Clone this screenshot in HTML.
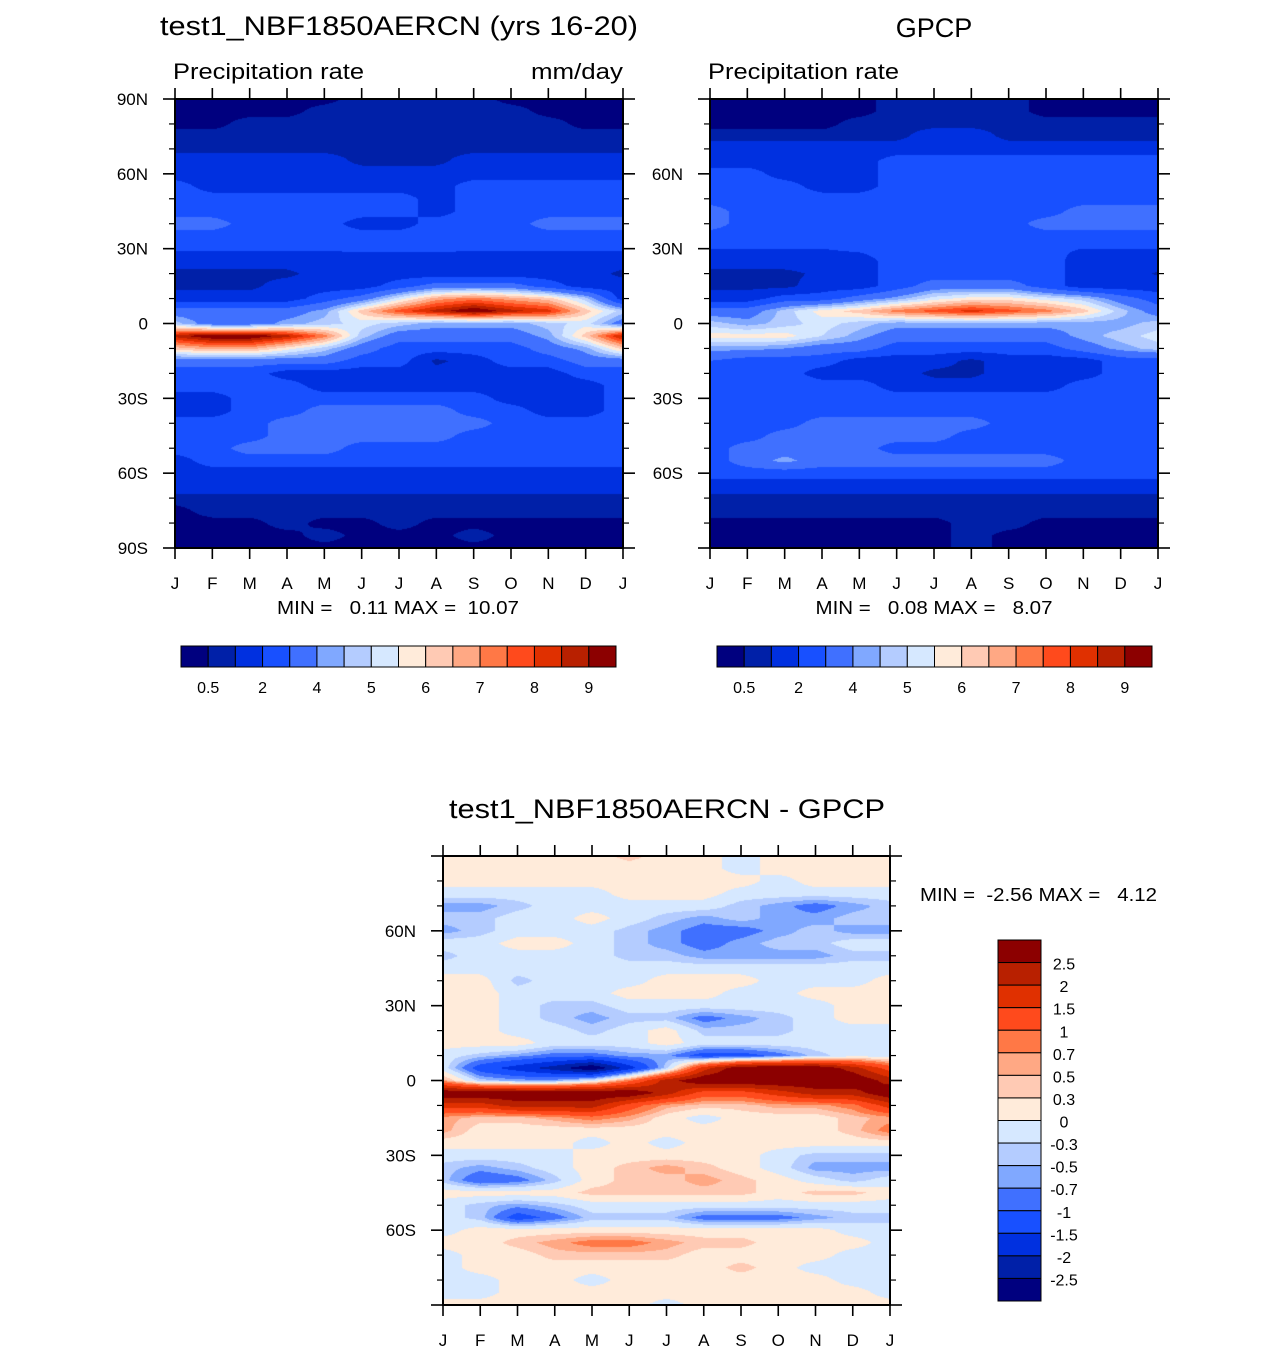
<!DOCTYPE html>
<html><head><meta charset="utf-8"><title>Precipitation zonal mean</title>
<style>
html,body{margin:0;padding:0;background:#fff;}
#wrap{position:relative;width:1285px;height:1354px;overflow:hidden;}
canvas{position:absolute;}
svg{position:absolute;left:0;top:0;}
text{font-family:"Liberation Sans",Arial,sans-serif;fill:#000;}
</style></head>
<body>
<div id="wrap">
<canvas id="c1" width="448" height="449" style="left:175px;top:99px"></canvas>
<canvas id="c2" width="448" height="449" style="left:710px;top:99px"></canvas>
<canvas id="c3" width="447" height="449" style="left:443px;top:856px"></canvas>
<svg id="s" width="1285" height="1354"></svg>
</div>
<script>
const MONTHS = ['J','F','M','A','M','J','J','A','S','O','N','D','J'];
const LATS = [90,85,80,75,70,65,60,55,50,45,40,35,30,25,20,15,10,5,0,-5,-10,-15,-20,-25,-30,-35,-40,-45,-50,-55,-60,-65,-70,-75,-80,-85,-90];
const PREC_LEVELS = [0.5,1,2,3,4,4.5,5,5.5,6,6.5,7,7.5,8,8.5,9];
const PREC_LABELS = ['0.5','2','4','5','6','7','8','9'];
const DIFF_LEVELS = [-2.5,-2,-1.5,-1,-0.7,-0.5,-0.3,0,0.3,0.5,0.7,1,1.5,2,2.5];
const DIFF_LABELS = ['2.5','2','1.5','1','0.7','0.5','0.3','0','-0.3','-0.5','-0.7','-1','-1.5','-2','-2.5'];
const COLORS = ['#00007F','#0020A8','#0030E0','#1850FF','#4070FF','#80A8FF','#B4CCFF','#D6E8FF','#FFEBDA','#FFCAB4','#FFA884','#FF7846','#FF4A1C','#E03000','#B82000','#8C0000'];

const model = [
[.3,.3,.3,.3,.3,.75,.75,.75,.75,.3,.3,.3,.3],
[.3,.3,.3,.3,.75,.75,.75,.75,.75,.75,.3,.3,.3],
[.3,.3,.75,.75,.75,.75,.75,.75,.75,.75,.75,.3,.3],
[.75,.75,.75,.75,.75,.75,.75,.75,.75,.75,.75,.75,.75],
[.75,.75,.75,.75,.75,.75,.75,.75,.75,.75,.75,.75,.75],
[1.5,1.5,1.5,1.5,1.5,.75,.75,.75,1.5,1.5,1.5,1.5,1.5],
[1.5,1.5,1.5,1.5,1.5,1.5,1.5,1.5,1.5,1.5,1.5,1.5,1.5],
[2.5,1.5,1.5,1.5,1.5,1.5,1.5,1.5,2.5,2.5,2.5,2.5,2.5],
[2.5,2.5,2.5,2.5,2.5,2.5,2.5,1.5,2.5,2.5,2.5,2.5,2.5],
[2.5,2.5,2.5,2.5,2.5,2.5,2.5,1.5,2.5,2.5,2.5,2.5,2.5],
[3.5,3.5,2.5,2.5,2.5,1.5,1.5,2.5,2.5,2.5,3.5,3.5,3.5],
[2.5,2.5,2.5,2.5,2.5,2.5,2.5,2.5,2.5,2.5,2.5,2.5,2.5],
[2.1,2.1,2.1,2.1,2.1,2.2,2.2,2.2,2.1,2.1,2.1,2.1,2.1],
[1.5,1.5,1.5,1.5,1.5,1.5,1.5,1.5,1.5,1.5,1.5,1.5,1.5],
[.75,.75,.75,.75,1.5,1.5,1.5,1.5,1.5,1.5,1.5,1.5,.75],
[.75,.75,.75,1.5,1.5,1.5,2.5,3.5,3.5,3.5,2.5,1.5,1.5],
[1.5,1.5,1.5,1.5,2.5,3.5,5.25,6.75,7.25,6.75,6.25,4.75,1.5],
[3.5,3.5,3.5,3.5,4.25,6.25,7.75,8.75,9.6,8.75,8.25,6.25,4.75],
[4.75,3.5,3.5,4.25,4.75,5.25,4.75,4.25,4.25,4.25,4.75,5.25,3.5],
[8.75,9.6,9.6,8.75,7.25,4.75,3.5,3.5,3.5,3.5,4.25,6.25,8.75],
[6.25,6.75,6.75,5.75,4.75,3.5,2.5,2.5,2.5,2.5,3.5,4.25,6.25],
[3.5,3.5,3.5,3.5,3.5,2.5,2.5,.75,1.5,2.5,2.5,3.5,3.5],
[2.5,2.5,2.5,1.5,1.5,1.5,1.5,1.5,1.5,1.5,1.5,2.5,2.5],
[2.5,2.5,2.5,2.5,1.5,1.5,1.5,1.5,1.5,1.5,1.5,1.5,2.5],
[1.5,1.5,2.5,2.5,2.5,2.5,2.5,2.5,2.5,1.5,1.5,1.5,2.5],
[1.5,1.5,2.5,2.5,3.5,3.5,3.5,3.5,2.5,2.5,1.5,1.5,2.5],
[2.5,2.5,2.5,3.5,3.5,3.5,3.5,3.5,3.5,2.5,2.5,2.5,2.5],
[2.5,2.5,2.5,3.5,3.5,3.5,3.5,3.5,2.5,2.5,2.5,2.5,2.5],
[2.5,2.5,3.5,3.5,3.5,2.5,2.5,2.5,2.5,2.5,2.5,2.5,2.5],
[1.5,2.5,2.5,2.5,2.5,2.5,2.5,2.5,2.5,2.5,2.5,2.5,2.5],
[1.5,1.5,1.5,1.5,1.5,1.5,1.5,1.5,1.5,1.5,1.5,1.5,1.5],
[1.5,1.5,1.5,1.5,1.5,1.5,1.5,1.5,1.5,1.5,1.5,1.5,1.5],
[.75,.75,.75,.75,.75,.75,.75,.75,.75,.75,.75,.75,.75],
[.3,.75,.75,.75,.75,.75,.75,.75,.75,.75,.75,.75,.75],
[.3,.3,.3,.75,.3,.3,.75,.3,.3,.3,.3,.3,.3],
[.3,.3,.3,.3,.75,.3,.3,.3,.75,.3,.3,.3,.3],
[.3,.3,.3,.3,.3,.3,.3,.3,.3,.3,.3,.3,.3]
];

const obs = [
[.3,.3,.3,.3,.3,.75,.75,.75,.75,.3,.3,.3,.3],
[.3,.3,.3,.3,.3,.75,.75,.75,.75,.3,.3,.3,.3],
[.3,.3,.3,.3,.75,.75,.75,.75,.75,.75,.75,.75,.75],
[.75,.75,.75,.75,.75,.75,1.5,1.5,.75,.75,.75,.75,.75],
[1.5,1.5,1.5,1.5,1.5,1.5,1.5,1.5,1.5,1.5,1.5,1.5,1.5],
[1.5,1.5,1.5,1.5,1.5,2.5,2.5,2.5,2.5,2.5,2.5,2.5,2.5],
[2.5,2.5,1.5,1.5,1.5,2.5,2.5,2.5,2.5,2.5,2.5,2.5,2.5],
[2.5,2.5,2.5,1.5,1.5,2.5,2.5,2.5,2.5,2.5,2.5,2.5,2.5],
[2.5,2.5,2.5,2.5,2.5,2.5,2.5,2.5,2.5,2.5,2.5,2.5,2.5],
[3.5,2.5,2.5,2.5,2.5,2.5,2.5,2.5,2.5,2.5,3.5,3.5,3.5],
[3.5,2.5,2.5,2.5,2.5,2.5,2.5,2.5,2.5,3.5,3.5,3.5,3.5],
[2.5,2.5,2.5,2.5,2.5,2.5,2.5,2.5,2.5,2.5,2.5,2.5,2.5],
[2.0,2.0,2.0,2.0,2.2,2.5,2.5,2.5,2.5,2.2,2.0,2.0,2.0],
[1.5,1.5,1.5,1.5,1.5,2.5,2.5,2.5,2.5,2.5,1.5,1.5,1.5],
[.75,.75,.75,1.2,1.5,2.5,2.5,2.5,2.5,2.5,1.5,1.5,.9],
[.75,.75,.75,1.5,1.5,2.5,3.5,3.5,3.5,2.5,1.5,1.5,1.5],
[1.5,1.5,2.5,2.5,3.5,4.25,5.25,5.75,5.75,5.25,4.75,3.5,2.5],
[3.5,3.5,4.75,5.75,6.25,7.25,7.75,8.25,7.75,7.25,6.25,4.75,3.5],
[4.75,4.25,4.75,5.25,4.75,4.25,4.25,4.25,4.25,4.25,4.25,4.25,4.75],
[5.75,5.75,5.75,5.0,4.25,3.5,3.5,3.5,3.5,3.5,4.25,4.75,5.25],
[4.25,4.25,4.0,3.5,3.5,2.5,2.5,2.5,2.5,2.5,3.5,4.25,4.75],
[3.0,2.5,2.5,2.5,1.5,1.5,1.5,.75,1.5,1.5,1.5,2.5,2.5],
[2.5,2.5,2.5,1.5,1.5,1.5,.75,.75,1.5,1.5,1.5,2.5,2.5],
[2.5,2.5,2.5,2.5,2.5,1.5,1.5,1.5,1.5,1.5,2.5,2.5,2.5],
[2.5,2.5,2.5,2.5,2.5,2.5,2.5,2.5,2.5,2.5,2.5,2.5,2.5],
[2.5,2.5,2.5,2.5,2.5,2.5,2.5,2.5,2.5,2.5,2.5,2.5,2.5],
[2.5,2.5,2.5,3.5,3.5,3.5,3.5,3.5,2.5,2.5,2.5,2.5,2.5],
[2.5,2.5,3.5,3.5,3.5,3.5,3.5,2.5,2.5,2.5,2.5,2.5,2.5],
[2.5,3.5,3.5,3.5,3.5,2.5,2.5,2.5,2.5,2.5,2.5,2.5,2.5],
[2.5,3.5,4.25,3.5,3.5,3.5,3.5,3.5,3.5,3.5,2.5,2.5,2.5],
[2.5,2.5,2.5,2.5,2.5,2.5,2.5,2.5,2.5,2.5,2.5,2.5,2.5],
[1.5,1.5,1.5,1.5,1.5,1.5,1.5,1.5,1.5,1.5,1.5,1.5,1.5],
[.75,.75,.75,.75,.75,.75,.75,.75,.75,.75,.75,.75,.75],
[.75,.75,.75,.75,.75,.75,.75,.75,.75,.75,.75,.75,.75],
[.3,.3,.3,.3,.3,.3,.3,.75,.75,.3,.3,.3,.3],
[.3,.3,.3,.3,.3,.3,.3,.75,.3,.3,.3,.3,.3],
[.3,.3,.3,.3,.3,.3,.3,.75,.3,.3,.3,.3,.3]
];

const diff = [
[.15,.15,.15,.15,.15,.4,.15,.15,-.15,.15,.15,.15,.15],
[.15,.15,.15,.15,.15,.15,.15,.15,-.15,.15,.15,.15,.15],
[.15,.15,.15,.15,.15,.15,.15,.15,.15,-.15,.15,.15,.15],
[-.15,-.15,-.15,-.15,-.15,.15,.15,.15,-.15,-.15,-.15,-.15,-.15],
[-.6,-.6,-.4,-.15,-.15,-.15,-.15,-.15,-.4,-.6,-.85,-.6,-.4],
[-.4,-.4,-.15,-.15,.15,-.15,-.4,-.6,-.4,-.6,-.6,-.4,-.4],
[-.6,-.4,-.15,-.15,-.15,-.4,-.6,-.85,-.85,-.6,-.4,-.6,-.6],
[-.15,-.15,.15,.15,-.15,-.4,-.6,-.85,-.6,-.4,-.4,-.15,-.15],
[-.4,-.15,-.15,-.15,-.15,-.4,-.4,-.6,-.6,-.6,-.6,-.4,-.4],
[-.15,-.15,-.15,-.15,-.15,-.15,-.15,-.15,-.15,-.15,-.15,-.15,-.15],
[.15,.15,-.4,-.15,-.15,-.15,.15,.15,.15,-.15,-.15,-.15,.15],
[.15,.15,-.15,-.15,-.15,.15,.15,.15,-.15,-.15,.15,.15,.15],
[.15,.15,-.15,-.4,-.4,-.15,-.15,-.15,-.15,-.15,-.15,.15,.15],
[.15,.15,-.15,-.4,-.6,-.4,-.4,-.85,-.6,-.4,-.15,.15,.15],
[.15,.15,-.15,-.15,-.4,-.15,.15,-.4,-.4,-.4,-.15,-.15,-.15],
[.15,.15,.15,-.15,-.15,-.15,.15,-.15,-.15,-.15,-.15,-.15,-.15],
[-.15,-.4,-.6,-.85,-.85,-.6,-.6,-1.25,-1.25,-.85,-.4,-.15,-.15],
[-.15,-1.25,-1.75,-2.25,-3,-1.75,-.4,1.75,3,3,3,2.25,1.25],
[.6,-.4,-.6,-.6,-.15,.85,2.25,3,3,3,3,3,2.25],
[3,3,3,3,3,3,2.25,1.25,1.25,1.75,2.25,2.25,3],
[1.75,1.75,2.25,2.25,2.25,1.25,.6,.4,.4,.6,.6,.85,1.75],
[.6,.4,.4,.6,.85,.6,.15,-.15,.15,.15,.15,.4,.6],
[.6,.15,.15,.15,.15,.15,.15,.15,.15,.15,.15,.4,.85],
[.15,.15,.15,.15,-.15,.15,-.15,.15,.15,.15,.15,.15,.15],
[-.15,-.15,-.15,-.15,.15,.15,.15,.15,.15,-.15,-.4,-.4,-.4],
[-.4,-.6,-.4,-.15,.15,.4,.6,.4,.15,-.15,-.6,-.6,-.6],
[-.4,-1.0,-.85,-.4,.15,.4,.4,.6,.4,.15,-.15,-.4,-.15],
[.15,.15,.15,.15,.4,.4,.4,.4,.4,.15,.4,.4,.15],
[-.15,-.4,-.6,-.4,-.15,-.15,-.15,-.15,-.15,-.15,-.15,-.15,-.15],
[-.15,-.4,-1.25,-.85,-.4,-.4,-.4,-.85,-.85,-.85,-.6,-.4,-.4],
[-.15,.15,.15,.15,.15,.15,.15,.15,.15,.15,.15,-.15,-.15],
[.15,.15,.4,.6,.85,.85,.6,.4,.4,.15,.15,.15,-.15],
[-.15,.15,.15,.4,.4,.4,.4,.15,.15,.15,.15,-.15,-.15],
[-.15,.15,.15,.15,.15,.15,.15,.15,.4,.15,-.15,-.15,-.15],
[-.15,-.15,.15,.15,-.15,.15,.15,.15,.15,.15,.15,-.15,-.15],
[-.15,-.15,.15,.15,.15,.15,.15,.15,.15,.15,.15,.15,-.15],
[.15,.15,.15,.15,.15,.15,-.15,.15,.15,.15,.15,.15,.15]
];

function levelIndex(v, levels){ let i=0; while(i<levels.length && v>=levels[i]) i++; return i; }
function hex(c){return [parseInt(c.slice(1,3),16),parseInt(c.slice(3,5),16),parseInt(c.slice(5,7),16)];}
const RGB = COLORS.map(hex);

function drawField(id, data, levels){
  const cv=document.getElementById(id), ctx=cv.getContext('2d');
  const W=cv.width,H=cv.height, img=ctx.createImageData(W,H);
  const nc=MONTHS.length-1, nr=LATS.length-1;
  for(let py=0;py<H;py++){
    const fy=(py+0.5)/H*nr, r0=Math.min(Math.floor(fy),nr-1), ty=fy-r0;
    for(let px=0;px<W;px++){
      const fx=(px+0.5)/W*nc, c0=Math.min(Math.floor(fx),nc-1), tx=fx-c0;
      const v=(data[r0][c0]*(1-tx)+data[r0][c0+1]*tx)*(1-ty)+(data[r0+1][c0]*(1-tx)+data[r0+1][c0+1]*tx)*ty;
      const col=RGB[levelIndex(v,levels)], k=(py*W+px)*4;
      img.data[k]=col[0];img.data[k+1]=col[1];img.data[k+2]=col[2];img.data[k+3]=255;
    }
  }
  ctx.putImageData(img,0,0);
}
drawField('c1',model,PREC_LEVELS);
drawField('c2',obs,PREC_LEVELS);
drawField('c3',diff,DIFF_LEVELS);

const NS='http://www.w3.org/2000/svg', S=document.getElementById('s');
function mk(tag, parent){const e=document.createElementNS(NS,tag);parent.appendChild(e);return e;}
function line(p,x1,y1,x2,y2,w){const l=mk('line',p);l.setAttribute('x1',x1);l.setAttribute('y1',y1);l.setAttribute('x2',x2);l.setAttribute('y2',y2);l.setAttribute('stroke','#000');l.setAttribute('stroke-width',w);return l;}
function txt(p,x,y,s,size,anchor){const t=mk('text',p);t.setAttribute('x',x);t.setAttribute('y',y);t.setAttribute('font-size',size);t.setAttribute('text-anchor',anchor||'start');t.textContent=s;return t;}

function axes(name,x0,y0,w,h,labelTop){
  const g=mk('g',S);
  
  
  const xs=m=>x0+m/(MONTHS.length-1)*w, ys=lat=>y0+(90-lat)/180*h;
  MONTHS.forEach((m,i)=>{
    const x=xs(i);
    const t1=line(g,x,y0,x,y0-11,1.6);
    
    
    const t2=line(g,x,y0+h,x,y0+h+11,1.6);
    
    
    const lb=txt(g,x,y0+h+41,m,17,'middle');
    
    
  });
  for(let lat=90;lat>=-90;lat-=10){
    const y=ys(lat), major=(lat%30===0), L=major?12:6;
    const a=line(g,x0,y,x0-L,y,major?1.6:1.2);
    
    
    const b=line(g,x0+w,y,x0+w+L,y,major?1.6:1.2);
    
    
    if(major && (labelTop || Math.abs(lat)<90)){
      const s=lat===0?'0':(Math.abs(lat)+(lat>0?'N':'S'));
      const lb=txt(g,x0-27,y+6,s,17,'end');
      
      
    }
  }
  const r=mk('rect',g);
  r.setAttribute('x',x0);r.setAttribute('y',y0);r.setAttribute('width',w);r.setAttribute('height',h);
  r.setAttribute('fill','none');r.setAttribute('stroke','#000');r.setAttribute('stroke-width',2);
  
  
}
axes('model',175,99,448,449,true);
axes('gpcp',710,99,448,449,false);
axes('diff',443,856,447,449,false);

function hbar(name,x0,y0,w,h){
  const g=mk('g',S);
  
  
  const bw=w/COLORS.length;
  COLORS.forEach((c,i)=>{
    const r=mk('rect',g);
    r.setAttribute('x',x0+i*bw);r.setAttribute('y',y0);r.setAttribute('width',bw);r.setAttribute('height',h);
    r.setAttribute('fill',c);r.setAttribute('stroke','#000');r.setAttribute('stroke-width',1);
    
    
  });
  PREC_LABELS.forEach((s,j)=>{
    const t=txt(g,x0+(2*j+1)*bw,y0+h+26,s,16,'middle');
    
    
  });
}
hbar('model-colorbar',181,646,435,21);
hbar('gpcp-colorbar',717,646,435,21);

(function(){
  const g=mk('g',S);
  
  
  const x0=998,y0=940,w=43,h=361,bh=h/COLORS.length;
  for(let i=0;i<COLORS.length;i++){
    const r=mk('rect',g);
    r.setAttribute('x',x0);r.setAttribute('y',y0+i*bh);r.setAttribute('width',w);r.setAttribute('height',bh);
    r.setAttribute('fill',COLORS[COLORS.length-1-i]);r.setAttribute('stroke','#000');r.setAttribute('stroke-width',1);
    
    
  }
  DIFF_LABELS.forEach((s,j)=>{
    const t=txt(g,1064,y0+(j+1)*bh+7,s,16,'middle');
    
    
  });
})();

const texts=[
 ['model-title',399,35,'test1_NBF1850AERCN (yrs 16-20)',27,'middle',478],
 ['gpcp-title',934,37,'GPCP',27,'middle',0],
 ['model-subtitle',173,79,'Precipitation rate',22,'start',191],
 ['model-units',623,79,'mm/day',22,'end',92],
 ['gpcp-subtitle',708,79,'Precipitation rate',22,'start',191],
 ['model-minmax',398,614,'MIN =   0.11 MAX =  10.07',18,'middle',242],
 ['gpcp-minmax',934,614,'MIN =   0.08 MAX =   8.07',18,'middle',237],
 ['diff-title',667,818,'test1_NBF1850AERCN - GPCP',27,'middle',436],
 ['diff-minmax',920,901,'MIN =  -2.56 MAX =   4.12',18,'start',237]
];
texts.forEach(a=>{
  const t=txt(S,a[1],a[2],a[3],a[4],a[5]);
  t.setAttribute('xml:space','preserve');
  t.style.whiteSpace='pre';
  if(a[6]){t.setAttribute('textLength',a[6]);t.setAttribute('lengthAdjust','spacingAndGlyphs');}
  
  
});
</script>
</body></html>
